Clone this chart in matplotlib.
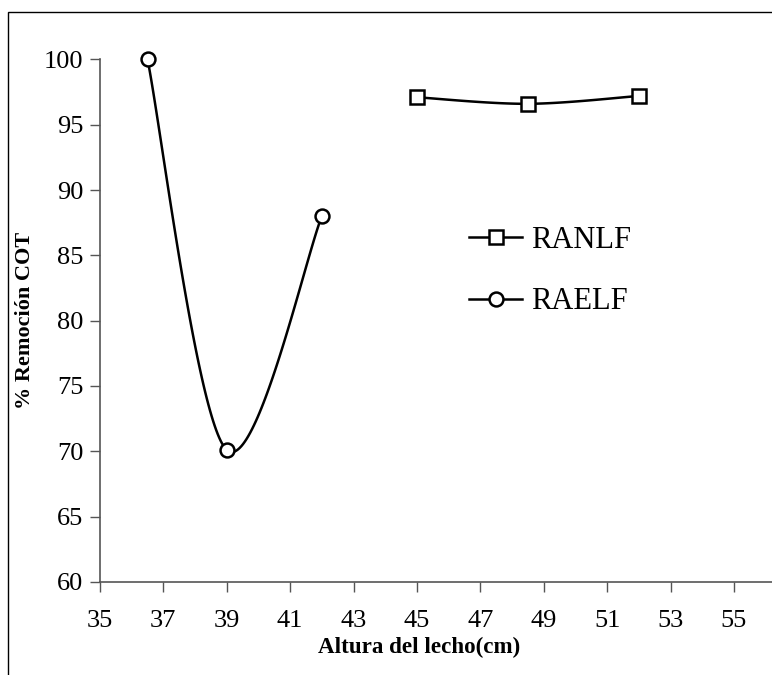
import numpy as np
import matplotlib.pyplot as plt
from matplotlib.patches import Rectangle

# data
ranlf_x = [45, 48.5, 52]
ranlf_y = [97.1, 96.6, 97.2]
raelf_x = [36.5, 39, 42]
raelf_y = [100, 70.1, 88]


def smooth(x, y, n=60):
    # Excel-like smoothed line (Catmull-Rom style Bezier)
    x = np.asarray(x, float)
    y = np.asarray(y, float)
    pts = np.column_stack([x, y])
    out = []
    for i in range(len(pts) - 1):
        p0 = pts[i - 1] if i > 0 else pts[i]
        p1 = pts[i]
        p2 = pts[i + 1]
        p3 = pts[i + 2] if i + 2 < len(pts) else pts[i + 1]
        c1 = p1 + (p2 - p0) / 6
        c2 = p2 - (p3 - p1) / 6
        t = np.linspace(0, 1, n)[:, None]
        seg = ((1 - t) ** 3) * p1 + 3 * ((1 - t) ** 2) * t * c1 + 3 * (1 - t) * t ** 2 * c2 + t ** 3 * p2
        out.append(seg)
    out = np.vstack(out)
    return out[:, 0], out[:, 1]


plt.rcParams['font.family'] = 'Liberation Serif'

fig = plt.figure(figsize=(7.72, 6.75), dpi=100)
ax = fig.add_axes([0.1295, 0.138, 0.8705, 0.774])

# outer frame like the Excel chart area
fig.patches.append(Rectangle((0.0105, -0.1), 1.1, 1.082, transform=fig.transFigure,
                             fill=False, edgecolor='black', linewidth=1.0))

for xs, ys, mk, lab in [(ranlf_x, ranlf_y, 's', 'RANLF'), (raelf_x, raelf_y, 'o', 'RAELF')]:
    sx, sy = smooth(xs, ys)
    ax.plot(sx, sy, color='black', linewidth=1.8, zorder=2)
    ax.plot(xs, ys, linestyle='none', marker=mk, markersize=10, markerfacecolor='white',
            markeredgecolor='black', markeredgewidth=1.8, zorder=3, clip_on=False)
    ax.plot([], [], color='black', linewidth=1.8, marker=mk, markersize=10,
            markerfacecolor='white', markeredgecolor='black', markeredgewidth=1.8, label=lab)

ax.set_xlim(35, 56.2)
ax.set_ylim(60, 100)
ax.set_xticks(np.arange(35, 56, 2))
ax.set_yticks(np.arange(60, 101, 5))
ax.tick_params(labelsize=19, direction='out', length=7, width=1, color='#555555')
ax.tick_params(axis='x', pad=13.5)
ax.tick_params(axis='y', pad=5)
for s in ['top', 'right']:
    ax.spines[s].set_visible(False)
for s in ['left', 'bottom']:
    ax.spines[s].set_color('#555555')
    ax.spines[s].set_linewidth(1.2)

ax.set_xlabel('Altura del lecho(cm)', fontsize=16.6, fontweight='bold')
ax.xaxis.set_label_coords(0.475, -0.105)
ax.set_ylabel('% Remoción COT', fontsize=16, fontweight='bold')
ax.yaxis.set_label_coords(-0.096, 0.5)

ax.legend(loc='upper left', bbox_to_anchor=(0.527, 0.711), frameon=False, fontsize=22,
          handlelength=1.73, handletextpad=0.3, labelspacing=1.07, borderpad=0)

fig.savefig('out.png', dpi=100)
